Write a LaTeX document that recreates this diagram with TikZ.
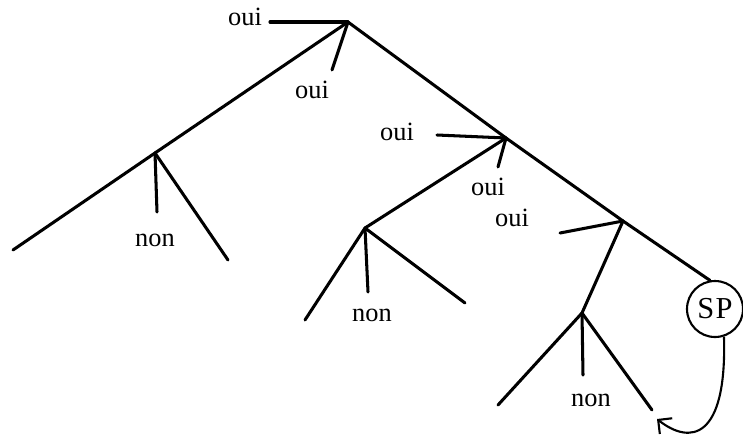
\documentclass[tikz,border=0pt]{standalone}
\usepackage{fontspec}
\setmainfont{Liberation Serif}
\usetikzlibrary{arrows.meta, positioning}

\begin{document}
\begin{tikzpicture}[x=0.03cm, y=-0.03cm,
    every edge/.style={draw, line width=2.6pt, line cap=round},
    lbl/.style={font=\fontsize{22.5}{26}\selectfont, inner sep=0pt},
    sp/.style={circle, draw, line width=1.8pt, minimum size=1.68cm,
        inner sep=0pt, font=\fontsize{26}{30}\selectfont}]

    \useasboundingbox (0,0) rectangle (743,434);

    \coordinate (top) at (348,22);
    \coordinate (nA)  at (155,153);
    \coordinate (nB)  at (506,138);
    \coordinate (nC)  at (365,228);
    \coordinate (nD)  at (623,221);
    \coordinate (nE)  at (582,313);

    \coordinate (topL) at (270,22);
    \coordinate (topS) at (332,70);
    \coordinate (aEnd) at (13,250);
    \coordinate (aS)   at (157,212);
    \coordinate (aR)   at (228,260);
    \coordinate (bL)   at (437,135);
    \coordinate (bS)   at (498,167);
    \coordinate (cL)   at (305,320);
    \coordinate (cS)   at (368,292);
    \coordinate (cR)   at (465,303);
    \coordinate (dL)   at (560,233);
    \coordinate (eL)   at (498,405);
    \coordinate (eS)   at (583,375);
    \coordinate (eR)   at (652,410);
    \coordinate (back) at (657,419);

    \node[sp]  (SP) at (715,309) {S\kern1ptP};

    \node[lbl] (ouiA) at (245,17)  {oui};
    \node[lbl] (ouiB) at (312,90)  {oui};
    \node[lbl] (nonA) at (155,240) {non};
    \node[lbl] (ouiC) at (397,132) {oui};
    \node[lbl] (ouiD) at (488,187) {oui};
    \node[lbl] (ouiE) at (512,218) {oui};
    \node[lbl] (nonB) at (372,315) {non};
    \node[lbl] (nonC) at (591,400) {non};

    \path (top) edge (topL) edge (topS) edge (nA) edge (nB)
    (nA)  edge (aEnd) edge (aS) edge (aR)
    (nB)  edge (bL) edge (bS) edge (nC) edge (nD)
    (nC)  edge (cL) edge (cS) edge (cR)
    (nD)  edge (dL) edge (nE) edge (SP.100)
    (nE)  edge (eL) edge (eS) edge (eR);

    \draw[-{Straight Barb[length=3mm]}, line width=1.8pt]
    (SP.-72) .. controls (727,440) and (690,445) .. (back);
\end{tikzpicture}
\end{document}
